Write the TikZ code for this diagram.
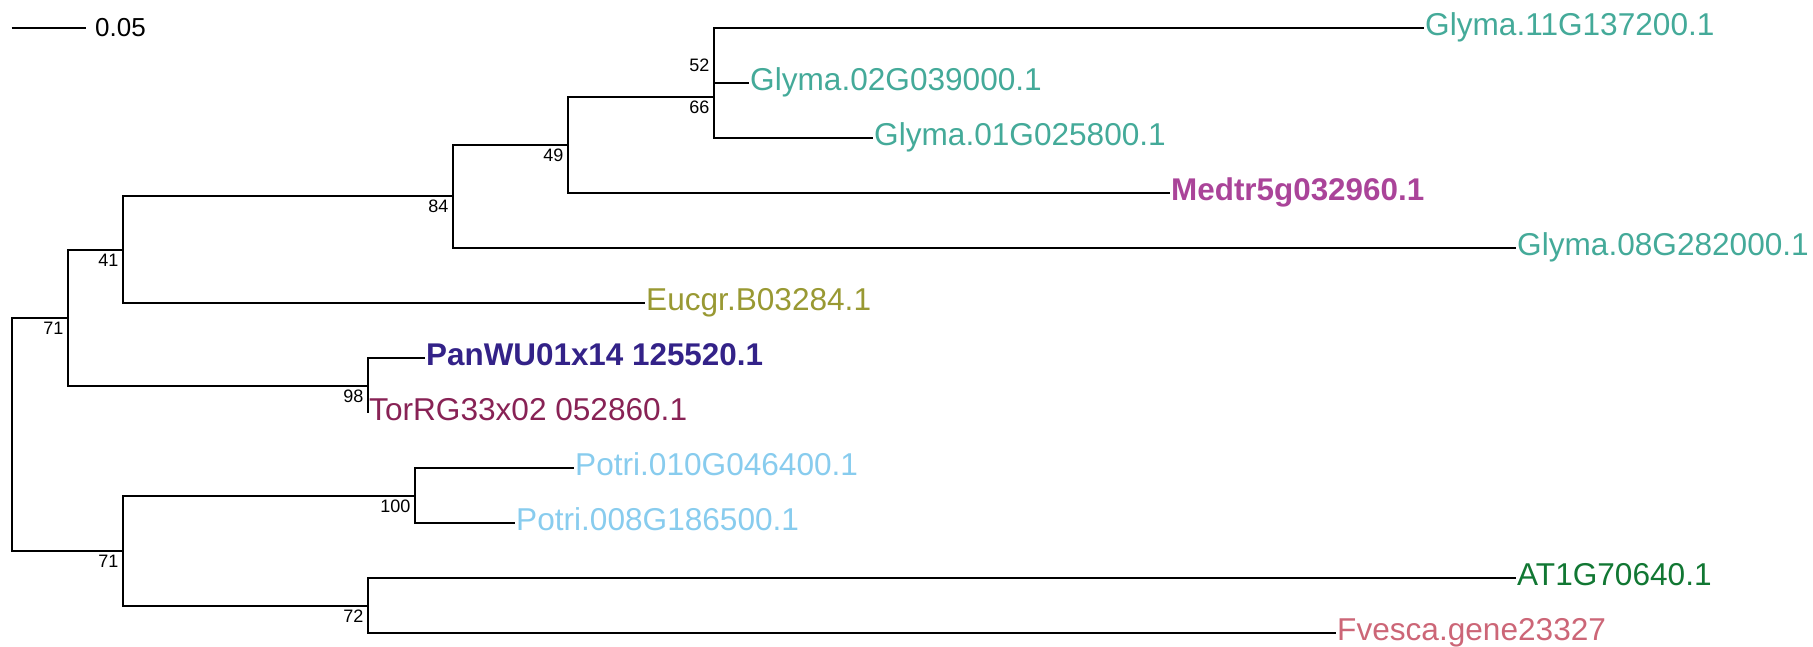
\documentclass[tikz,border=0pt]{standalone}
\usepackage{fontspec}
\setmainfont{Liberation Sans}
\definecolor{cteal}{HTML}{44AA99}
\definecolor{cpurple}{HTML}{AA4499}
\definecolor{colive}{HTML}{999933}
\definecolor{cindigo}{HTML}{332288}
\definecolor{cwine}{HTML}{882255}
\definecolor{ccyan}{HTML}{88CCEE}
\definecolor{cgreen}{HTML}{117733}
\definecolor{crose}{HTML}{CC6677}
\tikzset{
  branch/.style={line width=2pt, black},
  leaf/.style={anchor=base west, inner sep=0pt, font=\fontsize{31.6}{36}\selectfont},
  boldleaf/.style={leaf, font=\fontsize{31.4}{36}\selectfont\bfseries},
  boot/.style={anchor=base east, inner sep=0pt, font=\fontsize{18}{20}\selectfont},
  scalelbl/.style={anchor=west, inner sep=0pt, font=\fontsize{26}{30}\selectfont}
}
\begin{document}
\begin{tikzpicture}[x=1pt,y=-1pt]
\useasboundingbox (0,0) rectangle (1813,647);
% scale bar
\coordinate (sb1) at (11.5,28);
\coordinate (sb2) at (86,28);
\draw[branch] (sb1) -- (sb2);
\node[scalelbl] (sbl) at (95,28) {0.05};
% tips
\coordinate (t1) at (1424,28);
\coordinate (t2) at (749,83);
\coordinate (t3) at (873,138);
\coordinate (t4) at (1170,193);
\coordinate (t5) at (1516,248);
\coordinate (t6) at (645,303);
\coordinate (t7) at (425,358);
\coordinate (t8) at (368,413);
\coordinate (t9) at (574,468);
\coordinate (t10) at (515,523);
\coordinate (t11) at (1516,578);
\coordinate (t12) at (1336,633);
% internal nodes
\coordinate (n52) at (714,55.5);
\coordinate (n66) at (714,96.75);
\coordinate (n49) at (568,144.9);
\coordinate (n84) at (453,196.4);
\coordinate (n41) at (123,249.7);
\coordinate (n98) at (368,385.5);
\coordinate (n71a) at (68,317.6);
\coordinate (n100) at (415,495.5);
\coordinate (n72) at (368,605.5);
\coordinate (n71b) at (123,550.5);
\coordinate (R) at (12,434);
% edges
\draw[branch] (R) |- (n71a);
\draw[branch] (R) |- (n71b);
\draw[branch] (n71a) |- (n41);
\draw[branch] (n71a) |- (n98);
\draw[branch] (n41) |- (n84);
\draw[branch] (n41) |- (t6);
\draw[branch] (n84) |- (n49);
\draw[branch] (n84) |- (t5);
\draw[branch] (n49) |- (n66);
\draw[branch] (n49) |- (t4);
\draw[branch] (n66) |- (n52);
\draw[branch] (n66) |- (t3);
\draw[branch] (n52) |- (t1);
\draw[branch] (n52) |- (t2);
\draw[branch] (n98) |- (t7);
\draw[branch] (n98) |- (t8);
\draw[branch] (n71b) |- (n100);
\draw[branch] (n71b) |- (n72);
\draw[branch] (n100) |- (t9);
\draw[branch] (n100) |- (t10);
\draw[branch] (n72) |- (t11);
\draw[branch] (n72) |- (t12);
% leaf labels
\node[leaf, text=cteal] (l1) at ([shift={(1pt,-7.5pt)}]t1) {Glyma.11G137200.1};
\node[leaf, text=cteal] (l2) at ([shift={(1pt,-7.5pt)}]t2) {Glyma.02G039000.1};
\node[leaf, text=cteal] (l3) at ([shift={(1pt,-7.5pt)}]t3) {Glyma.01G025800.1};
\node[boldleaf, text=cpurple] (l4) at ([shift={(1pt,-7.5pt)}]t4) {Medtr5g032960.1};
\node[leaf, text=cteal] (l5) at ([shift={(1pt,-7.5pt)}]t5) {Glyma.08G282000.1};
\node[leaf, text=colive] (l6) at ([shift={(1pt,-7.5pt)}]t6) {Eucgr.B03284.1};
\node[boldleaf, text=cindigo] (l7) at ([shift={(1pt,-7.5pt)}]t7) {PanWU01x14 125520.1};
\node[leaf, text=cwine] (l8) at ([shift={(1pt,-7.5pt)}]t8) {TorRG33x02 052860.1};
\node[leaf, text=ccyan] (l9) at ([shift={(1pt,-7.5pt)}]t9) {Potri.010G046400.1};
\node[leaf, text=ccyan] (l10) at ([shift={(1pt,-7.5pt)}]t10) {Potri.008G186500.1};
\node[leaf, text=cgreen] (l11) at ([shift={(1pt,-7.5pt)}]t11) {AT1G70640.1};
\node[leaf, text=crose] (l12) at ([shift={(1pt,-7.5pt)}]t12) {Fvesca.gene23327};
% bootstrap labels
\node[boot] (b52) at ([shift={(-4.5pt,-16.5pt)}]n52) {52};
\node[boot] (b66) at ([shift={(-4.5pt,-16.5pt)}]n66) {66};
\node[boot] (b49) at ([shift={(-4.5pt,-16.5pt)}]n49) {49};
\node[boot] (b84) at ([shift={(-4.5pt,-16.5pt)}]n84) {84};
\node[boot] (b41) at ([shift={(-4.5pt,-16.5pt)}]n41) {41};
\node[boot] (b71a) at ([shift={(-4.5pt,-16.5pt)}]n71a) {71};
\node[boot] (b98) at ([shift={(-4.5pt,-16.5pt)}]n98) {98};
\node[boot] (b100) at ([shift={(-4.5pt,-16.5pt)}]n100) {100};
\node[boot] (b71b) at ([shift={(-4.5pt,-16.5pt)}]n71b) {71};
\node[boot] (b72) at ([shift={(-4.5pt,-16.5pt)}]n72) {72};
\end{tikzpicture}
\end{document}
